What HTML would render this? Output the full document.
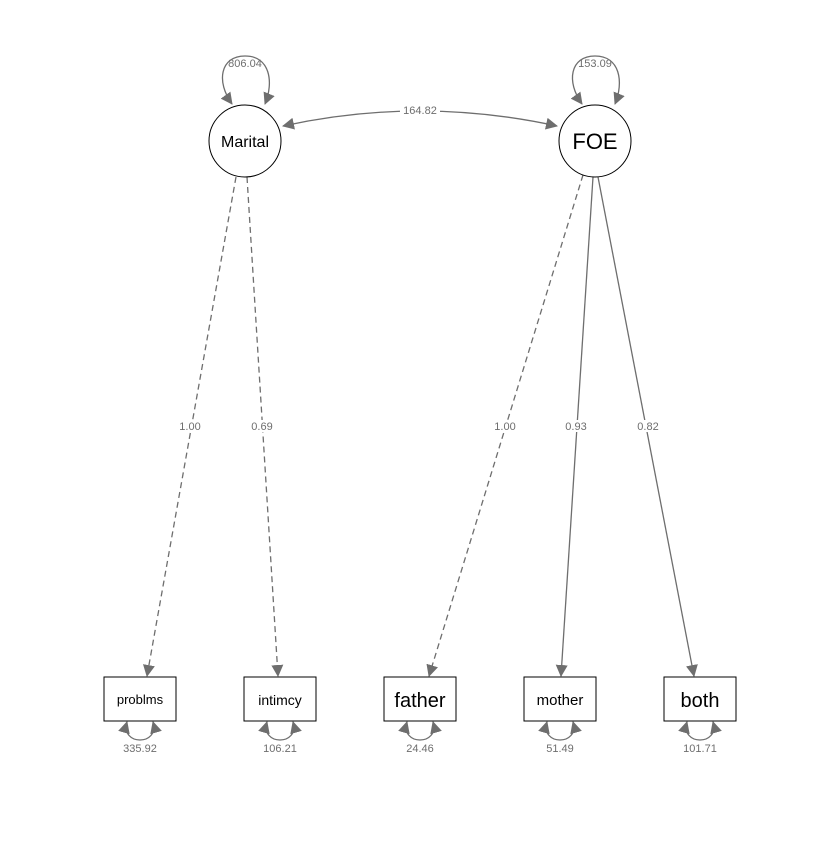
<!DOCTYPE html>
<html><head><style>
body{margin:0;background:#fff}
svg text{font-family:"Liberation Sans",Arial,sans-serif}
</style></head><body>
<svg width="840" height="840" viewBox="0 0 840 840" xmlns="http://www.w3.org/2000/svg">
<defs>
<marker id="a" viewBox="0 0 12 12" refX="11" refY="6" markerWidth="12" markerHeight="12" orient="auto-start-reverse" markerUnits="userSpaceOnUse">
<path d="M0,0 L12,6 L0,12 z" fill="#6e6e6e"/>
</marker>
</defs>
<g fill="none" stroke="#6e6e6e" stroke-width="1.3">
<path d="M283,126 Q420,96 557,126" marker-start="url(#a)" marker-end="url(#a)"/>
<path d="M232,104 C216,82 220,56 245,56 C270,56 274,82 265,104" marker-start="url(#a)" marker-end="url(#a)"/>
<path d="M582,104 C566,82 570,56 595,56 C620,56 624,82 615,104" marker-start="url(#a)" marker-end="url(#a)"/>
<path d="M236,177 L147,676" stroke-dasharray="6,4" marker-end="url(#a)"/>
<path d="M247,177 L278,676" stroke-dasharray="6,4" marker-end="url(#a)"/>
<path d="M583,175 L429,676" stroke-dasharray="6,4" marker-end="url(#a)"/>
<path d="M593,177 L561,676" marker-end="url(#a)"/>
<path d="M598,177 L694,676" marker-end="url(#a)"/>
<g id="r">
<path d="M127,722 C120,746 160,746 153,722" marker-start="url(#a)" marker-end="url(#a)"/>
</g>
<use href="#r" x="140"/><use href="#r" x="280"/><use href="#r" x="420"/><use href="#r" x="560"/>
</g>
<g fill="#fff" stroke="#000" stroke-width="1">
<circle cx="245" cy="141" r="36"/>
<circle cx="595" cy="141" r="36"/>
<rect x="104" y="677" width="72" height="44"/>
<rect x="244" y="677" width="72" height="44"/>
<rect x="384" y="677" width="72" height="44"/>
<rect x="524" y="677" width="72" height="44"/>
<rect x="664" y="677" width="72" height="44"/>
</g>
<g fill="#000" text-anchor="middle">
<text x="245" y="147" font-size="16">Marital</text>
<text x="595" y="149" font-size="22">FOE</text>
<text x="140" y="704" font-size="13">problms</text>
<text x="280" y="705" font-size="14">intimcy</text>
<text x="420" y="707" font-size="20">father</text>
<text x="560" y="705" font-size="15">mother</text>
<text x="700" y="707" font-size="20">both</text>
</g>
<g fill="#fff">
<rect x="177" y="420" width="26" height="12"/>
<rect x="249" y="420" width="26" height="12"/>
<rect x="492" y="420" width="26" height="12"/>
<rect x="563" y="420" width="26" height="12"/>
<rect x="635" y="420" width="26" height="12"/>
<rect x="400" y="104" width="40" height="12"/>
</g>
<g fill="#6e6e6e" font-size="11" text-anchor="middle">
<text x="420" y="114">164.82</text>
<text x="245" y="67">806.04</text>
<text x="595" y="67">153.09</text>
<text x="190" y="430">1.00</text>
<text x="262" y="430">0.69</text>
<text x="505" y="430">1.00</text>
<text x="576" y="430">0.93</text>
<text x="648" y="430">0.82</text>
<text x="140" y="752">335.92</text>
<text x="280" y="752">106.21</text>
<text x="420" y="752">24.46</text>
<text x="560" y="752">51.49</text>
<text x="700" y="752">101.71</text>
</g>
</svg>
</body></html>
